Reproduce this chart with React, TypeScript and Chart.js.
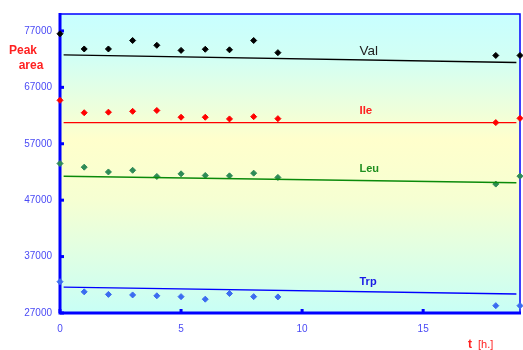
import React, { useEffect, useRef } from 'react';
import { Chart, registerables } from 'chart.js';

Chart.register(...registerables);

const hours = [0, 1, 2, 3, 4, 5, 6, 7, 8, 9, 18, 19];
const valValues = [76500, 73800, 73800, 75300, 74450, 73550, 73750, 73650, 75300, 73150, 72650, 72650];
const ileValues = [64700, 62500, 62600, 62750, 62900, 61700, 61700, 61400, 61800, 61450, 60750, 61500];
const leuValues = [53500, 52850, 52000, 52300, 51200, 51670, 51380, 51310, 51790, 51030, 49850, 51250];
const trpValues = [32550, 30750, 30300, 30200, 30050, 29900, 29450, 30450, 29900, 29850, 28300, 28300];

const fitHours = [0.15, 18.85];
const valFit = [72750, 71400];
const ileFit = [60750, 60750];
const leuFit = [51250, 50090];
const trpFit = [31580, 30370];

const yTicks = [27000, 37000, 47000, 57000, 67000, 77000];
const xTicks = [0, 5, 10, 15];
const seriesNames = ['Val', 'Ile', 'Leu', 'Trp'];
const labelHour = 12.37;

const FONT = '"Liberation Sans", Arial, sans-serif';
const TICK_COLOR = '#4a4af5';
const AXIS_COLOR = '#0000ff';

const pts = (vals: number[], xs: number[]) => xs.map((x, i) => ({ x, y: vals[i] }));

export default function App() {
  const ref = useRef<HTMLCanvasElement | null>(null);

  useEffect(() => {
    document.body.style.margin = '0';
    const canvas = ref.current;
    if (!canvas) return;

    const seriesCfg = [
      { name: seriesNames[0], vals: valValues, fit: valFit, point: '#000000', line: '#000000', label: '#222222', bold: false, size: 13.5, dy: -9 },
      { name: seriesNames[1], vals: ileValues, fit: ileFit, point: '#ff0000', line: '#ff0000', label: '#ff2020', bold: true, size: 11.5, dy: -12 },
      { name: seriesNames[2], vals: leuValues, fit: leuFit, point: '#2e8b57', line: '#0a8a0a', label: '#1f8f1f', bold: true, size: 11, dy: -11.5 },
      { name: seriesNames[3], vals: trpValues, fit: trpFit, point: '#3b6cf0', line: '#0000ff', label: '#1a1ae6', bold: true, size: 11, dy: -9.5 },
    ];

    const datasets: any[] = [];
    seriesCfg.forEach((s) => {
      datasets.push({
        label: s.name + ' fit',
        data: pts(s.fit, fitHours),
        showLine: true,
        borderColor: s.line,
        borderWidth: 1.4,
        pointRadius: 0,
        fill: false,
      });
    });
    seriesCfg.forEach((s) => {
      datasets.push({
        label: s.name,
        data: pts(s.vals, hours),
        showLine: false,
        pointStyle: 'rectRot',
        pointRadius: 3,
        pointBackgroundColor: s.point,
        pointBorderColor: s.point,
        pointBorderWidth: 1,
        clip: false,
      });
    });

    const deco = {
      id: 'deco',
      beforeDraw(chart: any) {
        const { ctx, chartArea: a } = chart;
        const g = ctx.createLinearGradient(0, a.top, 0, a.bottom);
        g.addColorStop(0, '#c8ffff');
        g.addColorStop(0.15, '#d2fff4');
        g.addColorStop(0.42, '#ffffcc');
        g.addColorStop(0.62, '#f6ffd2');
        g.addColorStop(1, '#c8fff6');
        ctx.save();
        ctx.fillStyle = g;
        ctx.fillRect(a.left, a.top, a.right - a.left, a.bottom - a.top);
        ctx.restore();
      },
      beforeDatasetsDraw(chart: any) {
        const { ctx, chartArea: a, scales } = chart;
        ctx.save();
        ctx.strokeStyle = AXIS_COLOR;
        ctx.lineWidth = 1.5;
        ctx.beginPath();
        ctx.moveTo(a.left, a.top);
        ctx.lineTo(a.right, a.top);
        ctx.lineTo(a.right, a.bottom);
        ctx.stroke();
        ctx.lineWidth = 3;
        ctx.beginPath();
        ctx.moveTo(a.left, a.top - 1);
        ctx.lineTo(a.left, a.bottom);
        ctx.lineTo(a.right + 1, a.bottom);
        ctx.stroke();
        ctx.fillStyle = AXIS_COLOR;
        yTicks.forEach((v) => {
          const y = scales.y.getPixelForValue(v);
          ctx.fillRect(a.left, y - 1.5, 4, 3);
        });
        xTicks.forEach((v) => {
          const x = scales.x.getPixelForValue(v);
          ctx.fillRect(x - 1.5, a.bottom - 4, 3, 4);
        });
        ctx.restore();
      },
      afterDraw(chart: any) {
        const { ctx, scales } = chart;
        ctx.save();
        ctx.textBaseline = 'middle';
        seriesCfg.forEach((s) => {
          const frac = (labelHour - fitHours[0]) / (fitHours[1] - fitHours[0]);
          const v = s.fit[0] + (s.fit[1] - s.fit[0]) * frac;
          const x = scales.x.getPixelForValue(labelHour);
          const y = scales.y.getPixelForValue(v) + s.dy;
          ctx.font = (s.bold ? 'bold ' : '') + s.size + 'px ' + FONT;
          ctx.fillStyle = s.label;
          ctx.textAlign = 'left';
          ctx.fillText(s.name, x, y);
        });
        ctx.fillStyle = '#ff2020';
        ctx.font = 'bold 12px ' + FONT;
        ctx.textAlign = 'center';
        ctx.fillText('Peak', 23, 51);
        ctx.fillText('area', 31, 66);
        ctx.font = 'bold 12px ' + FONT;
        ctx.textAlign = 'center';
        ctx.fillText('t', 470, 345);
        ctx.font = '11px ' + FONT;
        ctx.textAlign = 'left';
        ctx.fillText('[h.]', 478, 345);
        ctx.restore();
      },
    };

    const chart = new Chart(canvas, {
      type: 'scatter',
      data: { datasets },
      options: {
        animation: false,
        responsive: false,
        events: [],
        layout: { padding: { top: 13, right: 0, left: 0, bottom: 0 } },
        plugins: { legend: { display: false }, tooltip: { enabled: false } },
        scales: {
          x: {
            type: 'linear',
            min: 0,
            max: 19,
            grid: { display: false, drawTicks: false },
            border: { display: false },
            afterBuildTicks: (scale: any) => {
              scale.ticks = xTicks.map((v) => ({ value: v }));
            },
            afterFit: (scale: any) => {
              scale.height = 37;
            },
            ticks: {
              color: TICK_COLOR,
              font: { family: FONT, size: 10 },
              padding: 10,
              maxRotation: 0,
            },
          },
          y: {
            type: 'linear',
            min: 27000,
            max: 80000,
            grid: { display: false, drawTicks: false },
            border: { display: false },
            afterBuildTicks: (scale: any) => {
              scale.ticks = yTicks.map((v) => ({ value: v }));
            },
            afterFit: (scale: any) => {
              scale.width = 60;
            },
            ticks: {
              color: TICK_COLOR,
              font: { family: FONT, size: 10 },
              padding: 8,
              callback: (v: any) => String(v),
            },
          },
        },
      },
      plugins: [deco],
    });

    return () => chart.destroy();
  }, []);

  return (
    <div style={{ width: 523, height: 350, overflow: 'hidden', background: '#ffffff' }}>
      <canvas ref={ref} width={525} height={350} style={{ display: 'block' }} />
    </div>
  );
}
